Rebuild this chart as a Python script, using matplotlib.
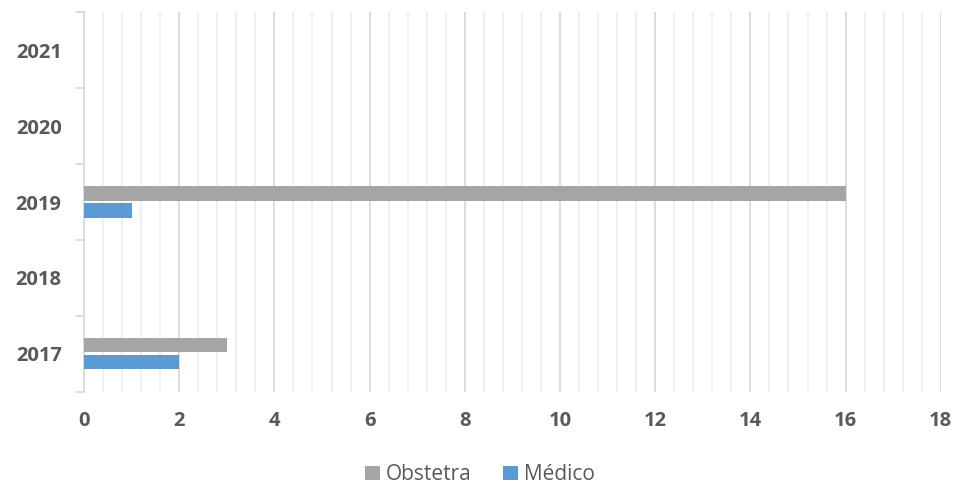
import numpy as np
import matplotlib.pyplot as plt
from matplotlib.ticker import MultipleLocator, FixedLocator

plt.rcParams['font.family'] = ['Open Sans', 'DejaVu Sans']

# Datos
years = ['2017', '2018', '2019', '2020', '2021']
obstetra = [3, 0, 16, 0, 0]
medico = [2, 0, 1, 0, 0]

fig = plt.figure(figsize=(9.6, 4.88), dpi=100)
ax = fig.add_axes([0.0875, 0.197, 0.8925, 0.778])

y = np.arange(len(years))
h = 0.19
ax.barh(y + 0.115, obstetra, height=h, color='#a5a5a5', label='Obstetra', zorder=3)
ax.barh(y - 0.11, medico, height=h, color='#5b9bd5', label='Médico', zorder=3)

ax.set_xlim(0, 18)
ax.set_ylim(-0.5, len(years) - 0.5)
ax.xaxis.set_major_locator(MultipleLocator(2))
ax.xaxis.set_minor_locator(MultipleLocator(0.4))
ax.grid(axis='x', which='major', color='#d9d9d9', linewidth=1.3, zorder=0)
ax.grid(axis='x', which='minor', color='#ececec', linewidth=1.2, zorder=0)
ax.tick_params(axis='x', which='both', length=0, pad=14,
               labelsize=14.5, labelcolor='#595959')
for lbl in ax.get_xticklabels():
    lbl.set_fontweight('bold')

ax.set_yticks(y)
ax.set_yticklabels(years, fontweight='bold')
ax.yaxis.set_minor_locator(FixedLocator(np.arange(-0.5, len(years), 1)))
ax.tick_params(axis='y', which='major', length=0, pad=16,
               labelsize=14.5, labelcolor='#595959')
ax.tick_params(axis='y', which='minor', length=6, color='#d9d9d9', width=1.3)

for s in ['top', 'right', 'bottom']:
    ax.spines[s].set_visible(False)
ax.spines['left'].set_color('#d9d9d9')
ax.spines['left'].set_linewidth(1.3)

fig.legend(loc='center', bbox_to_anchor=(0.5, 0.027), ncol=2, frameon=False,
           fontsize=15, labelcolor='#595959', handlelength=0.7,
           handleheight=0.7, handletextpad=0.3, columnspacing=1.5)

fig.savefig('out.png', dpi=100)
